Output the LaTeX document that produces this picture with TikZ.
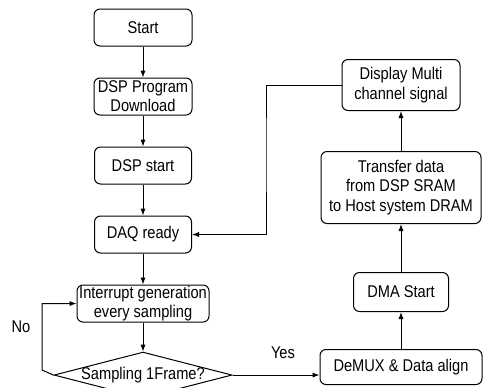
\documentclass[tikz,border=0pt]{standalone}
\usepackage{fontspec}
\setmainfont{Liberation Sans}[FakeStretch=0.86]
\usetikzlibrary{
  shapes.geometric,
  arrows.meta,
  positioning
}
\tikzset{
  stepbox/.style={
    rectangle, draw, rounded corners=3pt,
    minimum width=49pt, minimum height=18.5pt,
    inner sep=0.5pt, align=center, line width=0.5pt
  },
  flow/.style={-{Latex[length=3.5pt, width=2.6pt]}, line width=0.5pt},
}

\begin{document}
\begin{tikzpicture}[
  x=0.5pt, y=-0.5pt,
  font=\fontsize{8.5}{9.6}\selectfont,
  decision/.style={diamond, draw, aspect=3.87, minimum width=89pt, minimum height=23pt, inner sep=0pt, line width=0.5pt},
]
\useasboundingbox (0,0) rectangle (483,387);

% Acquisition side
\node[stepbox] (start) at (143,27.5) {Start};
\node[stepbox, below=15.5pt of start] (dspload) {DSP Program\\Download};
\node[stepbox, minimum width=48.5pt, below=15.5pt of dspload] (dspstart) {DSP start};
\node[stepbox, minimum width=48.5pt, below=15.5pt of dspstart] (daq) {DAQ ready};
\node[stepbox, minimum width=66pt, below=15.5pt of daq] (intr) {Interrupt generation\\every sampling};
\node[decision, below=14.5pt of intr] (frame) {\makebox[0pt]{Sampling 1Frame?}};

% Host side
\node[stepbox, minimum width=81pt, minimum height=17.5pt] (demux) at (401,367) {DeMUX \& Data align};
\node[stepbox, minimum width=47.5pt, minimum height=19.5pt, above=18.5pt of demux] (dma) {DMA Start};
\node[stepbox, minimum width=80pt, minimum height=36pt, above=24pt of dma] (xfer) {Transfer data\\from DSP SRAM\\to Host system DRAM};
\node[stepbox, minimum width=59pt, minimum height=25.5pt, above=20pt of xfer] (disp) {Display Multi\\channel signal};

% Branch labels
\node (no) at (21,327) {No};
\node (yes) at (283,353) {Yes};

% Main flow
\draw[flow] (start) -- (dspload);
\draw[flow] (dspload) -- (dspstart);
\draw[flow] (dspstart) -- (daq);
\draw[flow] (daq) -- (intr);
\draw[flow] (intr) -- (frame);

% No: wait for next sample
\coordinate (nobend) at (42,370);
\draw[flow] (frame.west) -- (nobend) |- (intr.west);

% Yes: hand over to host
\draw[flow] (frame.east) -- (frame.east -| demux.west);
\draw[flow] (demux) -- (dma);
\draw[flow] (dma) -- (xfer);
\draw[flow] (xfer) -- (disp);

% Back to DAQ ready
\coordinate (fbbend) at (266,150);
\draw[flow] (disp.west) -| (fbbend) |- (daq.east);

\end{tikzpicture}
\end{document}
